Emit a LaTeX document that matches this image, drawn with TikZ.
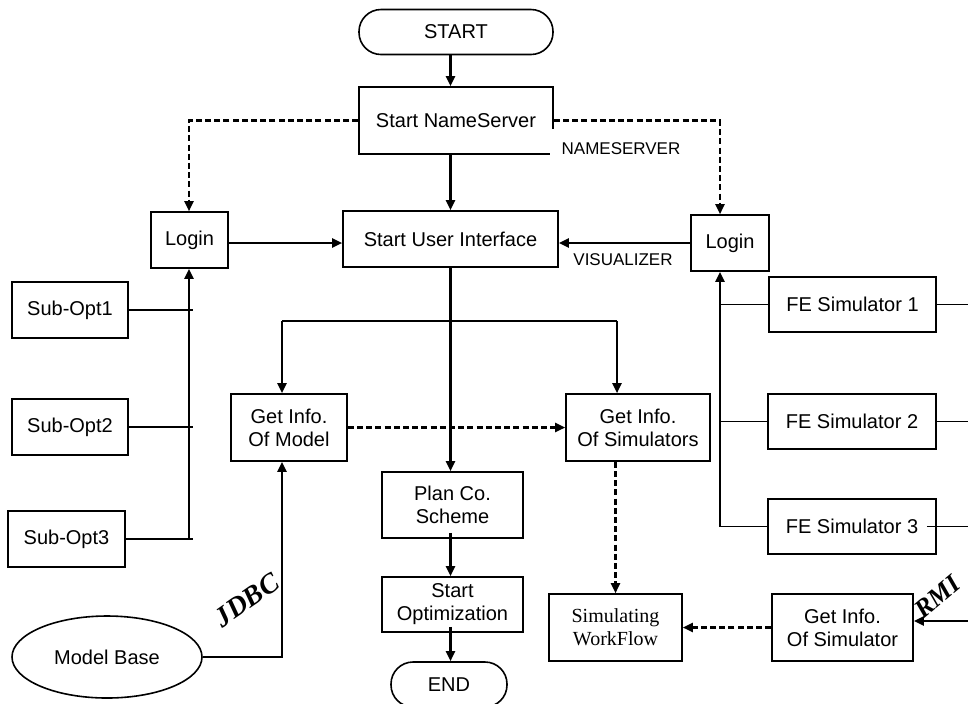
\documentclass[tikz,border=0pt]{standalone}
\usepackage{fontspec}
\usepackage{graphicx}
\setmainfont{Liberation Sans}
\newfontfamily\timesfont{Liberation Serif}
\usetikzlibrary{arrows.meta,shapes.geometric,calc}

\begin{document}
\begin{tikzpicture}[x=0.5pt,y=-0.5pt,
  every node/.style={inner sep=0pt},
  box/.style={draw, line width=0.8pt, align=center, font=\fontsize{10}{11.5}\selectfont},
  term/.style={box, rounded corners=11pt},
  arr/.style={line width=1.15pt, -{Triangle[length=5pt,width=4.5pt]}},
  dasharr/.style={line width=1.05pt, dash pattern=on 3pt off 1.6pt, -{Triangle[length=5pt,width=4.5pt]}},
  thinline/.style={line width=0.7pt},
  tag/.style={font=\fontsize{8.5}{10}\selectfont},
  proto/.style={font=\timesfont\bfseries\itshape\fontsize{14}{14}\selectfont}
]
\useasboundingbox (0,0) rectangle (968,703);

% bus and edge coordinates
\coordinate (lbus) at (189,0);
\coordinate (rbus) at (720,0);
\coordinate (bl) at (282,321);
\coordinate (br) at (617,321);
\coordinate (edgeR) at (985,0);
\coordinate (rmiin) at (985,621);

% main column
\node[term, minimum width=97pt, minimum height=22.5pt] (start) at (456,32) {START};
\node[box, minimum width=97pt, minimum height=33.5pt] (ns) at (456,120.5) {Start NameServer};
\node[box, minimum width=107.5pt, minimum height=28pt] (sui) at (450.5,239) {Start User Interface};
\node[box, minimum width=38.5pt, minimum height=28pt] (loginL) at (189.5,240) {Login};
\node[box, minimum width=39pt, minimum height=28pt] (loginR) at (730,243) {Login};

% simulators
\node[box, minimum width=83.5pt, minimum height=27.5pt] (fe1) at (852.5,304.5) {FE Simulator 1};
\node[box, minimum width=84pt, minimum height=27.5pt] (fe2) at (852,421.5) {FE Simulator 2};
\node[box, minimum width=84pt, minimum height=27.5pt] (fe3) at (852,526.5) {FE Simulator 3};

% sub-optimizers
\node[box, minimum width=58pt, minimum height=28pt] (sub1) at (70,310) {Sub-Opt1};
\node[box, minimum width=58pt, minimum height=28pt] (sub2) at (70,427) {Sub-Opt2};
\node[box, minimum width=58.5pt, minimum height=28pt] (sub3) at (66.5,539) {Sub-Opt3};

% information and planning
\node[box, minimum width=58pt, minimum height=33.5pt] (model) at (289,427.5) {Get Info.\\Of Model};
\node[box, minimum width=72pt, minimum height=33.5pt] (sims) at (638,427.5) {Get Info.\\Of Simulators};
\node[box, minimum width=70.5pt, minimum height=33pt] (plan) at (452.5,505) {Plan Co.\\Scheme};
\node[box, minimum width=70.5pt, minimum height=27.5pt] (opt) at (452.5,604.5) {Start\\Optimization};
\node[term, minimum width=58pt, minimum height=22.5pt] (end) at (449,684.5) {END};
\node[box, ellipse, minimum width=95pt, minimum height=41pt] (mbase) at (107,657) {Model Base};
\node[box, minimum width=66.5pt, minimum height=33.5pt, font=\timesfont\fontsize{10}{11.5}\selectfont] (wf) at (615.5,627.5) {Simulating\\WorkFlow};
\node[box, minimum width=70.5pt, minimum height=33.5pt] (gis) at (842.5,627.5) {Get Info.\\Of Simulator};

% labels
\node[tag, fill=white, inner xsep=6pt, inner ysep=7pt] (nslabel) at (621,149) {NAMESERVER};
\node[tag] (vislabel) at (623,260) {VISUALIZER};
\node[proto, rotate=35] (jdbc) at (247,600) {JDBC};
\node[proto, rotate=40, font=\timesfont\bfseries\itshape\fontsize{13}{13}\selectfont] (rmi) at (937,597) {RMI};

% start-up sequence
\draw[arr] (start.south -| sui.north) -- (ns.north -| sui.north);
\draw[arr] (ns.south -| sui.north) -- (sui.north);
\draw[dasharr] (ns.west) -| (loginL.north -| lbus);
\draw[dasharr] (ns.east) -| (loginR.north -| rbus);
\draw[arr] ($(loginL.east)+(0,3)$) -- ($(loginL.east -| sui.west)+(0,3)$);
\draw[arr] (loginR.west) -- (loginR.west -| sui.east);

% optimisation flow
\draw[arr] (sui.south) -- (sui.south |- plan.north);
\draw[line width=1.15pt] (bl) -- (br);
\draw[arr] (bl) -- (bl |- model.north);
\draw[arr] (br) -- (br |- sims.north);
\draw[dasharr] (model.east) -- (sims.west);
\draw[arr] (mbase.east) -| (bl |- model.south);
\draw[arr] ($(plan.south -| sui.south)+(0,-6)$) -- (opt.north -| sui.south);
\draw[arr] ($(opt.south -| sui.south)+(0,-6)$) -- (end.north -| sui.south);

% sub-optimizer bus
\foreach \s in {sub1,sub2,sub3}
  \draw[thinline] (\s.east) -- ($(\s.east -| lbus)+(4,0)$);
\draw[arr] (lbus |- sub3.east) -- (loginL.south -| lbus);

% simulator bus
\foreach \f in {fe1,fe2,fe3}
  \draw[thinline] (\f.west) -- (\f.west -| rbus);
\draw[arr] (rbus |- fe3.west) -- (loginR.south -| rbus);
\draw[thinline] (fe1.east) -- (fe1.east -| edgeR);
\draw[thinline] (fe2.east) -- (fe2.east -| edgeR);
\draw[thinline] ($(fe3.east)+(-10,0)$) -- (fe3.east -| edgeR);

% simulation workflow
\draw[dasharr] (wf.north |- sims.south) -- (wf.north);
\draw[dasharr] (gis.west) -- (wf.east);
\draw[arr] (rmiin) -- (rmiin -| gis.east);
\end{tikzpicture}
\end{document}
